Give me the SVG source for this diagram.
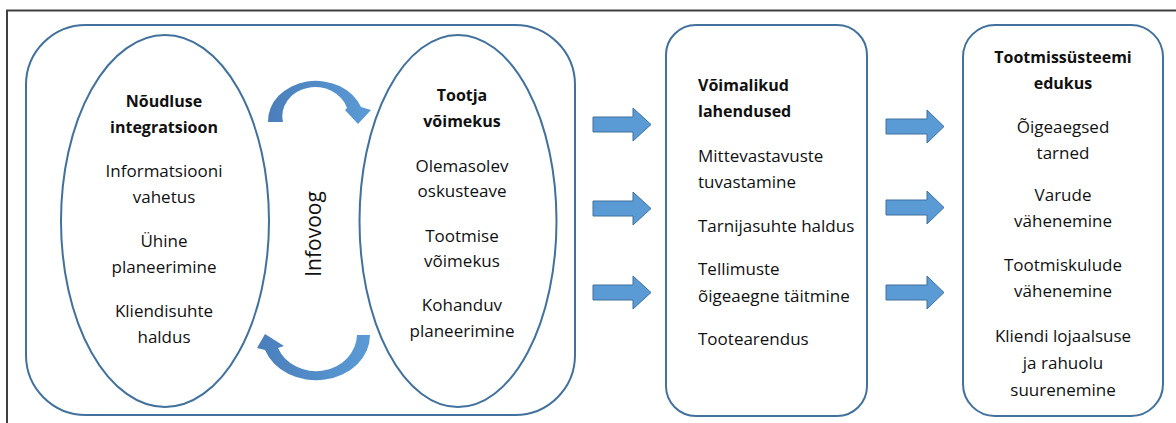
<svg xmlns="http://www.w3.org/2000/svg" width="1176" height="423" viewBox="0 0 1176 423">
<style>
.shape{fill:#fff;stroke:#41719C;stroke-width:2}
.t{font-family:"Open Sans","Noto Sans","Liberation Sans",sans-serif;font-size:17px;fill:#111}
.c{text-anchor:middle}
.b{font-weight:bold;font-size:16px}
.ba{fill:#5B9BD5;stroke:#41719C;stroke-width:1}
.ca{fill:url(#cg);stroke:none}
</style>
<defs>
<linearGradient id="cg" x1="0" y1="0" x2="1" y2="0">
<stop offset="0" stop-color="#4A7EBB"/>
<stop offset="1" stop-color="#5B9BD5"/>
</linearGradient>
</defs>
<rect width="1176" height="423" fill="#fff"/>
<path d="M7,423 V10.5 H1176" fill="none" stroke="#404040" stroke-width="2"/>

<g id="outer">
<rect class="shape" x="26" y="25" width="549" height="390" rx="60" ry="60"/>
</g>

<g id="node-noudlus">
<ellipse class="shape" cx="165" cy="221" rx="104" ry="186"/>
<text class="t c b" x="164" y="107">Nõudluse</text>
<text class="t c b" x="164" y="133">integratsioon</text>
<text class="t c" x="164" y="177">Informatsiooni</text>
<text class="t c" x="164" y="203">vahetus</text>
<text class="t c" x="164" y="247">Ühine</text>
<text class="t c" x="164" y="273">planeerimine</text>
<text class="t c" x="164" y="317">Kliendisuhte</text>
<text class="t c" x="164" y="343">haldus</text>
</g>

<g id="node-tootja">
<ellipse class="shape" cx="458" cy="221" rx="98.5" ry="186"/>
<text class="t c b" x="462" y="101">Tootja</text>
<text class="t c b" x="462" y="127">võimekus</text>
<text class="t c" x="462" y="172">Olemasolev</text>
<text class="t c" x="462" y="197">oskusteave</text>
<text class="t c" x="462" y="242">Tootmise</text>
<text class="t c" x="462" y="267">võimekus</text>
<text class="t c" x="462" y="311">Kohanduv</text>
<text class="t c" x="462" y="337">planeerimine</text>
</g>

<g id="label-infovoog">
<text class="t c" x="0" y="0" transform="translate(321,234) rotate(-90)" style="font-size:21px">Infovoog</text>
</g>

<g id="node-lahendused">
<rect class="shape" x="666" y="25" width="201" height="391" rx="30" ry="30"/>
<text class="t b" x="698" y="91">Võimalikud</text>
<text class="t b" x="698" y="117">lahendused</text>
<text class="t" x="698" y="162">Mittevastavuste</text>
<text class="t" x="698" y="188">tuvastamine</text>
<text class="t" x="698" y="232">Tarnijasuhte haldus</text>
<text class="t" x="698" y="275">Tellimuste</text>
<text class="t" x="698" y="302">õigeaegne täitmine</text>
<text class="t" x="698" y="345">Tootearendus</text>
</g>

<g id="node-edukus">
<rect class="shape" x="963" y="25" width="200" height="391" rx="32" ry="32"/>
<text class="t c b" x="1063" y="63">Tootmissüsteemi</text>
<text class="t c b" x="1063" y="89">edukus</text>
<text class="t c" x="1063" y="133">Õigeaegsed</text>
<text class="t c" x="1063" y="159">tarned</text>
<text class="t c" x="1063" y="201">Varude</text>
<text class="t c" x="1063" y="227">vähenemine</text>
<text class="t c" x="1063" y="271">Tootmiskulude</text>
<text class="t c" x="1063" y="297">vähenemine</text>
<text class="t c" x="1063" y="342">Kliendi lojaalsuse</text>
<text class="t c" x="1063" y="369">ja rahuolu</text>
<text class="t c" x="1063" y="396">suurenemine</text>
</g>

<g id="connectors">
<path class="ca" d="M268,122 A48,40 0 0 1 361,107 L371,110 L358,124 L345,110 L347,108 A33,29 0 0 0 283,122 Z"/>
<path class="ca" d="M370,335 A54,45 0 0 1 265,350 L257,348 L265,334 L284,346 L278,348 A41,37 0 0 0 357,335 Z"/>
<polygon class="ba" points="593,117 633,117 633,108 651,124.5 633,141 633,132 593,132"/>
<polygon class="ba" points="593,201 633,201 633,192 651,208.5 633,225 633,216 593,216"/>
<polygon class="ba" points="593,285 633,285 633,276 651,292.5 633,309 633,300 593,300"/>
<polygon class="ba" points="886,119 927,119 927,110 944,126.5 927,143 927,134 886,134"/>
<polygon class="ba" points="886,200 927,200 927,191 944,207.5 927,224 927,215 886,215"/>
<polygon class="ba" points="886,285 927,285 927,276 944,292.5 927,309 927,300 886,300"/>
</g>
</svg>
